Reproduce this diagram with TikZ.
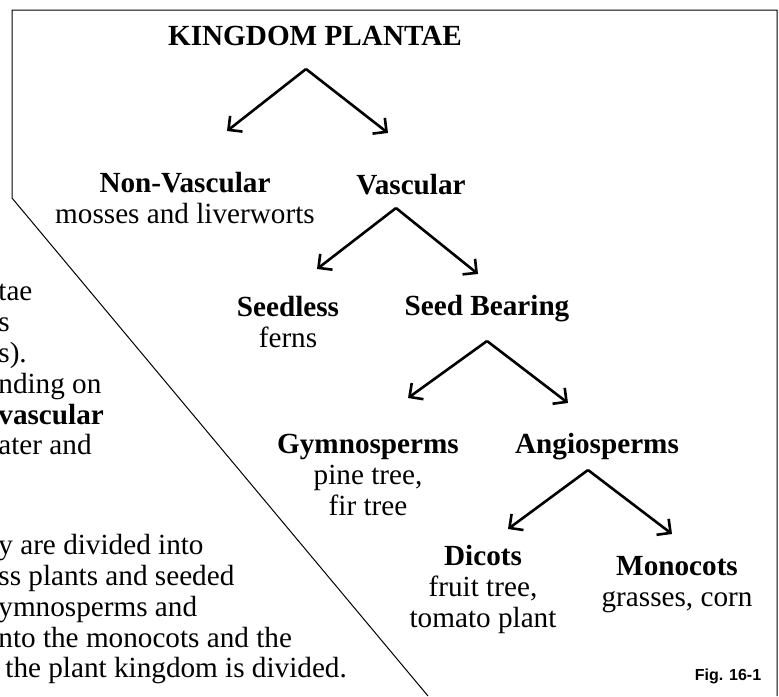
\documentclass[tikz,border=0pt]{standalone}
\usepackage{fontspec}
\setmainfont{Liberation Serif}
\newfontfamily\figfont{Liberation Sans}
\usetikzlibrary{arrows.meta}
\tikzstyle{title} = [inner sep=0pt, font=\fontsize{14.6}{15.5}\selectfont\bfseries]
\tikzstyle{group} = [align=center, inner sep=0pt, font=\fontsize{14.6}{15.5}\selectfont]
\tikzstyle{prose} = [align=left, anchor=north west, inner sep=0pt, font=\fontsize{14.6}{15.4}\selectfont]
\tikzstyle{figlabel} = [inner sep=0pt, font=\figfont\bfseries\fontsize{8}{9}\selectfont]
\tikzstyle{frame} = [line width=0.5pt]
\tikzstyle{arrow} = [line width=1.3pt, ->, >={Straight Barb[length=5pt,width=10pt]}]

\begin{document}
\begin{tikzpicture}[x=0.5pt, y=-0.5pt, node distance=70pt]
\useasboundingbox (0,0) rectangle (779,696);
\draw [frame] (428,696) -- (12,198) -- (12,10) -- (777,10) -- (777,696);

\node (kingdom) [title] at (315,36) {KINGDOM PLANTAE};
\node (nonvasc) [group, below of=kingdom, xshift=-65pt, yshift=-11pt]
   {\textbf{Non-Vascular}\\mosses and liverworts};
\node (vasc) [group, below of=kingdom, xshift=48pt, yshift=-4.5pt]
   {\textbf{Vascular}};
\node (seedless) [group, below of=vasc, xshift=-61.5pt, yshift=1.5pt]
   {\textbf{Seedless}\\ferns};
\node (seedbear) [group, below of=vasc, xshift=38pt, yshift=8pt]
   {\textbf{Seed Bearing}};
\node (gymno) [group, below of=seedbear, xshift=-59.5pt, yshift=-13pt]
   {\textbf{Gymnosperms}\\pine tree,\\fir tree};
\node (angio) [group, below of=seedbear, xshift=55pt, yshift=1pt]
   {\textbf{Angiosperms}};
\node (dicots) [group, below of=angio, xshift=-57pt, yshift=-1pt]
   {\textbf{Dicots}\\fruit tree,\\tomato plant};
\node (monocots) [group, below of=angio, xshift=40pt, yshift=1pt]
   {\textbf{Monocots}\\grasses, corn};
\node (fig) [figlabel, below of=monocots, xshift=25.5pt, yshift=24.5pt] {Fig. 16-1};

% cut-off text on the left
\node (textup) [prose] at (-2,284)
   {tae\\s\\s).\\nding on\\\textbf{vascular}\\ater and};
\node (textdown) [prose] at (-2,534)
   {y are divided into\\ss plants and seeded\\ymnosperms and\\nto the monocots and the\\\hspace*{3.5pt}the plant kingdom is divided.};

\draw [arrow] ([shift={(-4.5pt,-16.5pt)}]kingdom.center) -- ([shift={(21pt,33.5pt)}]nonvasc.center);
\draw [arrow] ([shift={(-4.5pt,-16.5pt)}]kingdom.center) -- ([shift={(-11.5pt,26pt)}]vasc.center);
\draw [arrow] ([shift={(-7.5pt,-11.5pt)}]vasc.center) -- ([shift={(14.5pt,26.5pt)}]seedless.center);
\draw [arrow] ([shift={(-7.5pt,-11.5pt)}]vasc.center) -- ([shift={(-4.5pt,17.5pt)}]seedbear.center);
\draw [arrow] ([shift={(0pt,-16pt)}]seedbear.center) -- ([shift={(20pt,38.5pt)}]gymno.center);
\draw [arrow] ([shift={(0pt,-16pt)}]seedbear.center) -- ([shift={(-14.5pt,22pt)}]angio.center);
\draw [arrow] ([shift={(-4.5pt,-11.5pt)}]angio.center) -- ([shift={(12.5pt,30pt)}]dicots.center);
\draw [arrow] ([shift={(-4.5pt,-11.5pt)}]angio.center) -- ([shift={(-2.5pt,25.5pt)}]monocots.center);

\end{tikzpicture}
\end{document}
